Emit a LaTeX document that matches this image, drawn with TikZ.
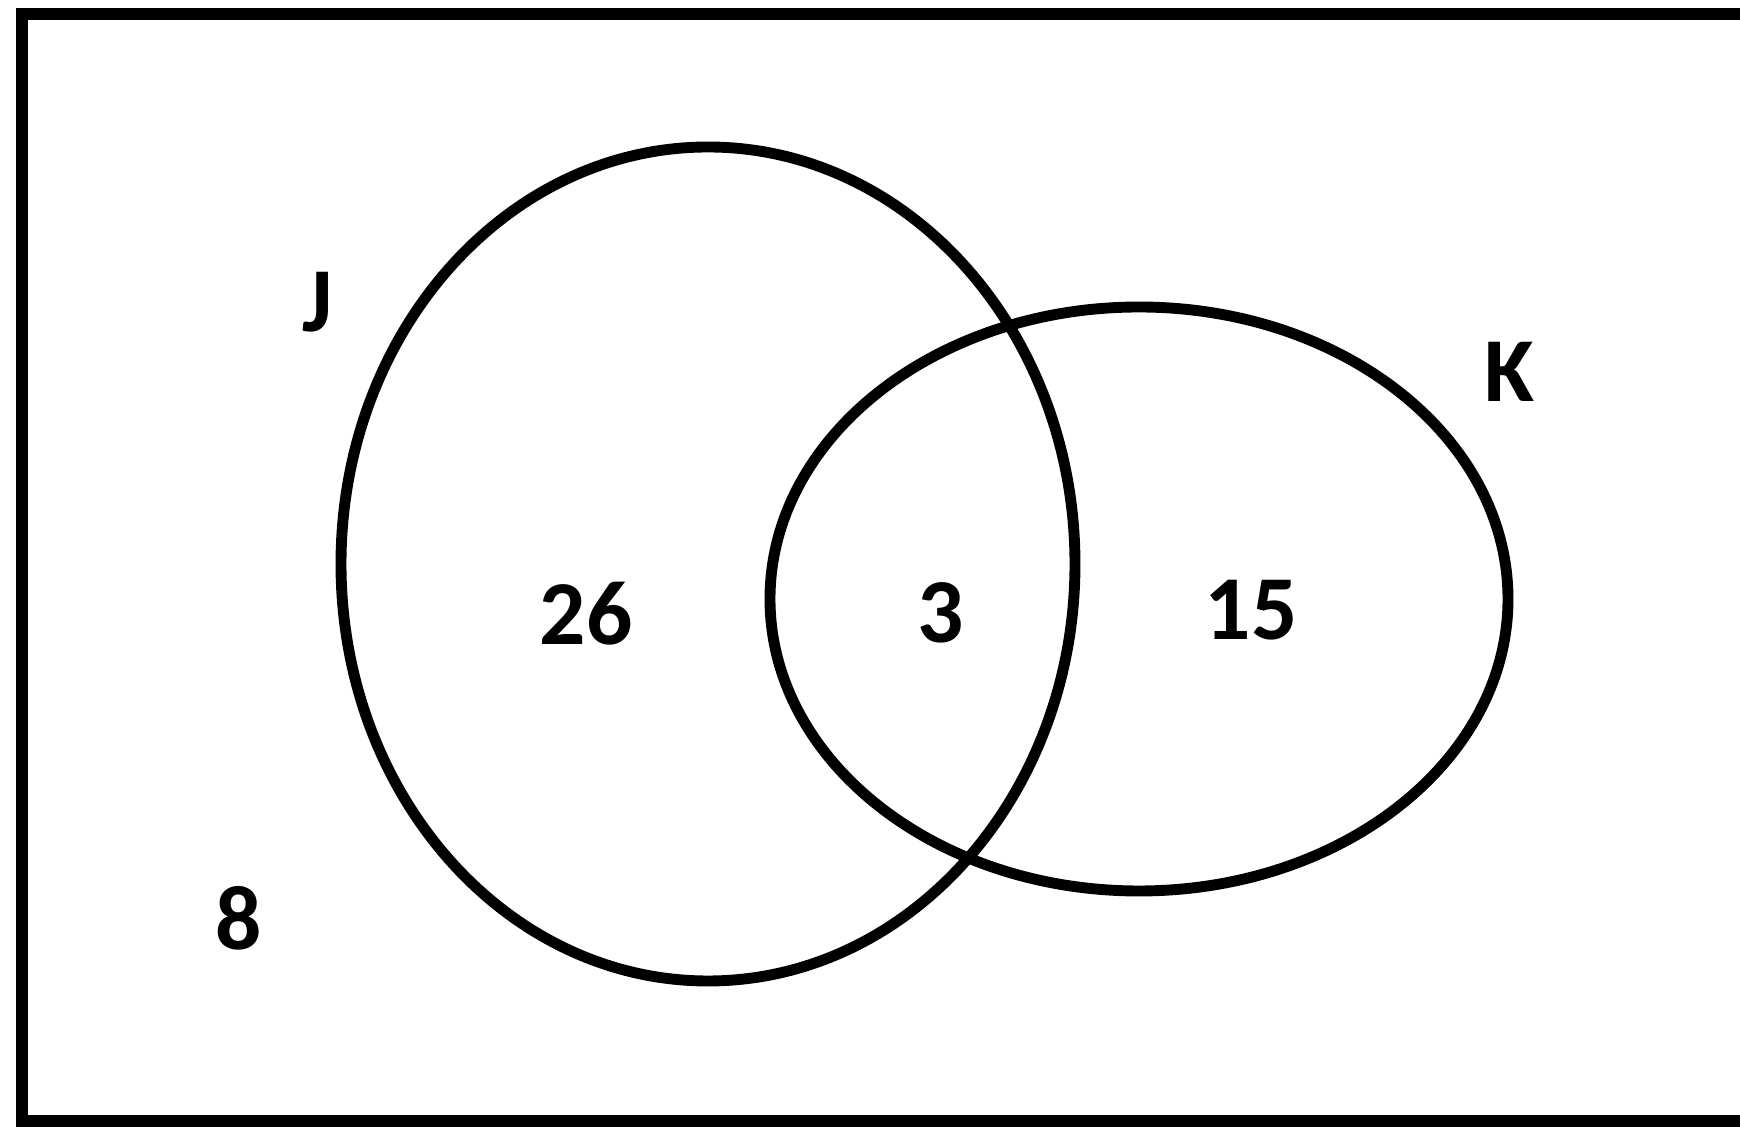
\documentclass[tikz,border=0pt]{standalone}
\usepackage{fontspec}
\setmainfont{Carlito}
\usepackage{tikz}
\usetikzlibrary{shapes.geometric}

\begin{document}
\begin{tikzpicture}[
  every node/.style={font=\bfseries\fontsize{26}{30}\selectfont, inner sep=0pt},
  frameLine/.style={draw=black, line width=3.3pt},
  setOval/.style={ellipse, draw=black, line width=3.1pt, inner sep=0pt},
  setName/.style={anchor=center},
  count/.style={anchor=center}
]
% --- page size and universal set ---
\clip (0,0) rectangle (17.40,-11.27);
\draw[frameLine] (0.22,-0.14) rectangle (17.80,-11.21);

% --- the two sets ---
\node[setOval, minimum width=7.34cm, minimum height=8.34cm] (J) at (7.08,-5.64) {};
\node[setOval, minimum width=7.38cm, minimum height=5.84cm] (K) at (11.39,-5.99) {};

% --- set names ---
\node[setName] (nameJ) at (3.18,-3.02) {J};
\node[setName] (nameK) at (15.09,-3.72) {K};

% --- counts ---
\node[count] (onlyJ)   at (5.86,-6.14) {26};
\node[count] (both)    at (9.41,-6.13) {3};
\node[count] (onlyK)   at (12.51,-6.10) {15};
\node[count] (neither) at (2.39,-9.18) {8};

\end{tikzpicture}
\end{document}
